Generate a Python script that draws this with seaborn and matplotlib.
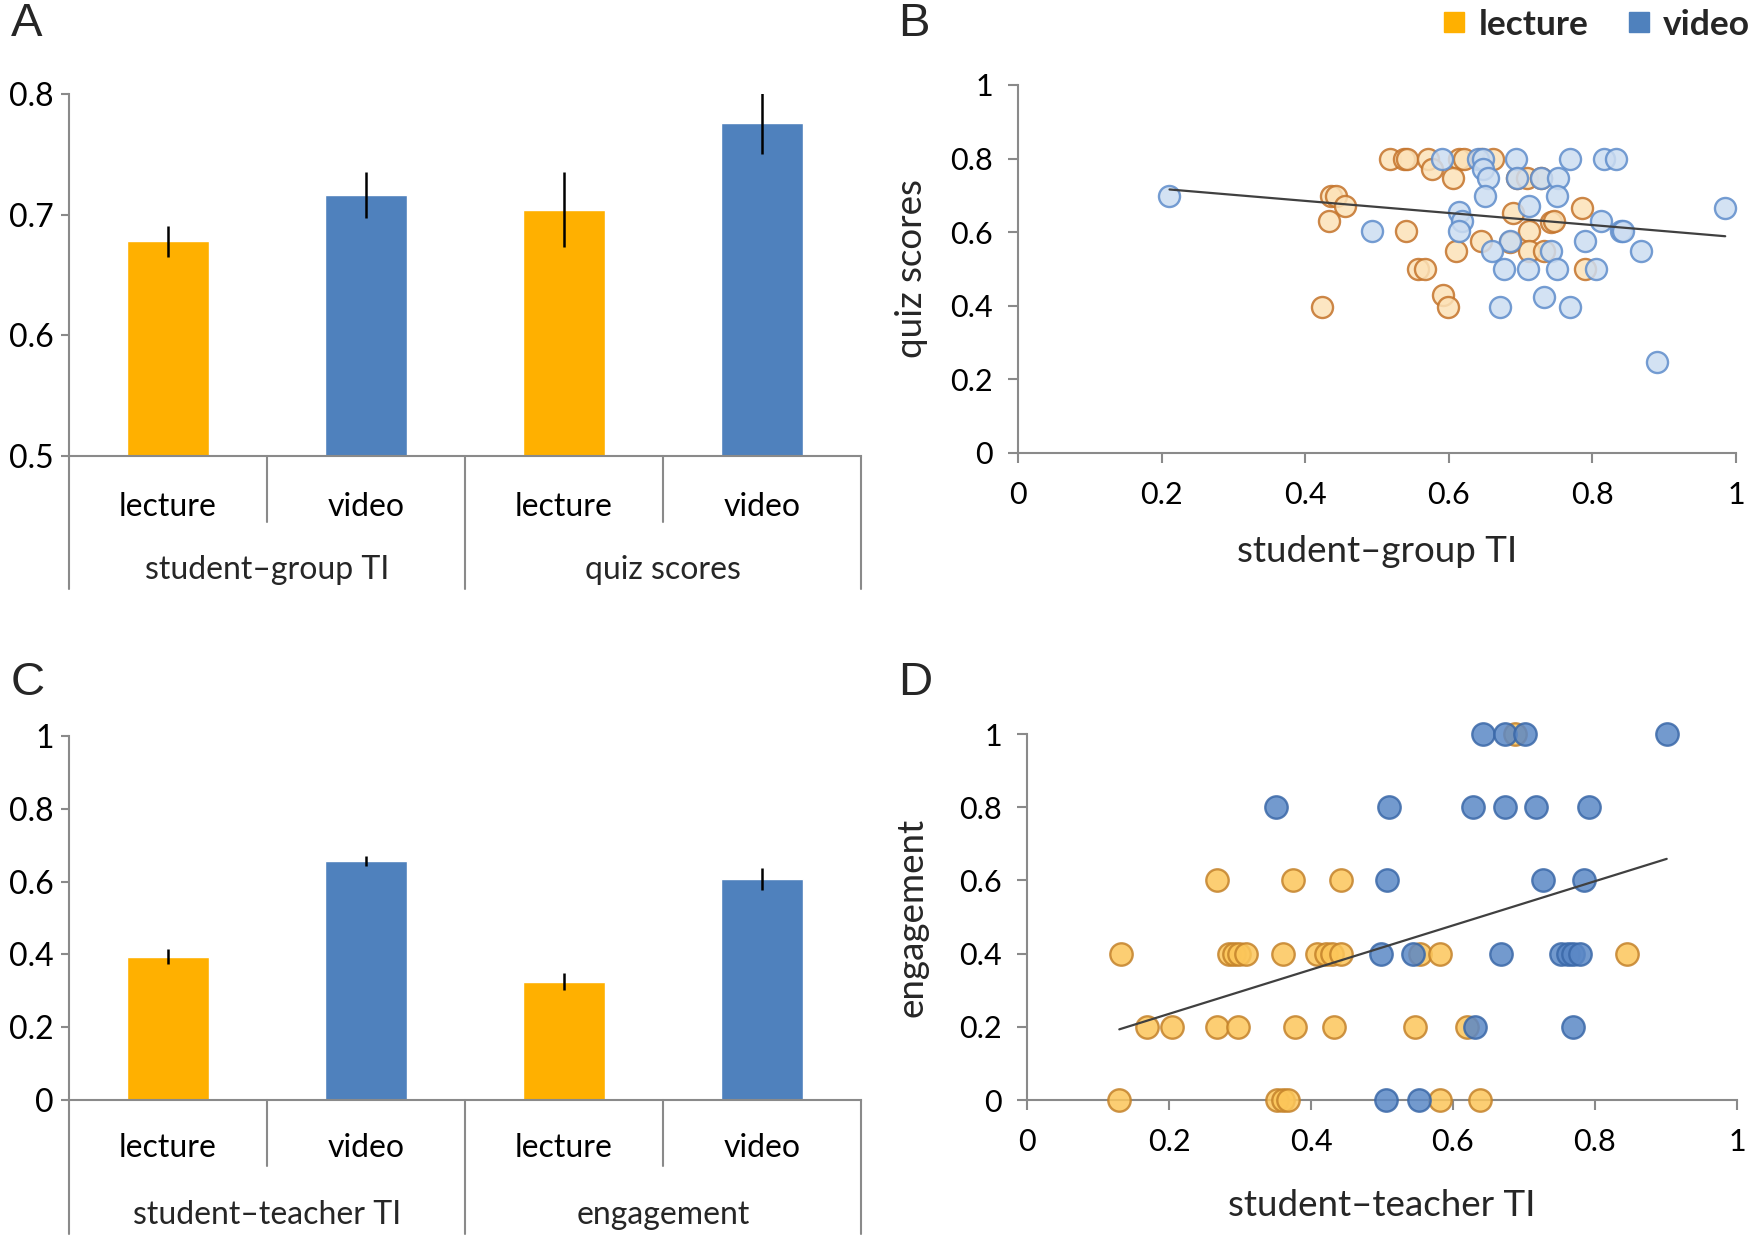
import numpy as np
import pandas as pd
import matplotlib
matplotlib.use("Agg")
import matplotlib.pyplot as plt
import matplotlib.transforms as mtransforms
from matplotlib.lines import Line2D
import seaborn as sns

# ---- data ----
conditions = ["lecture", "video"]

# panel A: means and standard errors
measures_a = ["student–group TI", "quiz scores"]
means_a = [0.678, 0.716, 0.704, 0.776]
errs_a = [0.013, 0.019, 0.031, 0.026]

# panel C
measures_c = ["student–teacher TI", "engagement"]
means_c = [0.394, 0.656, 0.325, 0.606]
errs_c = [0.020, 0.013, 0.024, 0.030]

# panel B: student-group TI vs quiz scores
lec_ti_b = [0.518, 0.538, 0.542, 0.571, 0.614, 0.621, 0.645, 0.662,
            0.577, 0.606, 0.695, 0.709, 0.729, 0.436, 0.443, 0.455,
            0.433, 0.540, 0.690, 0.786, 0.712, 0.742, 0.746, 0.645,
            0.685, 0.610, 0.712, 0.732, 0.557, 0.567, 0.789, 0.592,
            0.599, 0.424]
lec_quiz_b = [0.80, 0.80, 0.80, 0.80, 0.80, 0.80, 0.80, 0.80,
              0.772, 0.747, 0.747, 0.747, 0.747, 0.699, 0.699, 0.670,
              0.631, 0.602, 0.651, 0.666, 0.602, 0.627, 0.631, 0.577,
              0.574, 0.548, 0.548, 0.548, 0.50, 0.50, 0.50, 0.428,
              0.398, 0.398]
vid_ti_b = [0.211, 0.493, 0.591, 0.641, 0.648, 0.694, 0.769, 0.816,
            0.833, 0.648, 0.655, 0.695, 0.729, 0.752, 0.651, 0.751,
            0.614, 0.618, 0.614, 0.712, 0.812, 0.840, 0.843, 0.985,
            0.685, 0.660, 0.742, 0.789, 0.867, 0.677, 0.710, 0.751,
            0.805, 0.733, 0.672, 0.769, 0.890]
vid_quiz_b = [0.699, 0.602, 0.80, 0.80, 0.80, 0.80, 0.80, 0.80,
              0.80, 0.772, 0.747, 0.747, 0.747, 0.747, 0.699, 0.699,
              0.654, 0.631, 0.602, 0.670, 0.631, 0.602, 0.602, 0.666,
              0.577, 0.548, 0.548, 0.577, 0.548, 0.50, 0.50, 0.50,
              0.50, 0.425, 0.398, 0.398, 0.246]

# panel D: student-teacher TI vs engagement
lec_ti_d = [0.130, 0.352, 0.361, 0.368, 0.581, 0.638,
            0.169, 0.204, 0.268, 0.297, 0.378, 0.432, 0.546, 0.620,
            0.133, 0.284, 0.292, 0.299, 0.309, 0.360, 0.408, 0.421,
            0.429, 0.442, 0.554, 0.581, 0.845,
            0.268, 0.375, 0.442, 0.688]
lec_eng_d = [0.0, 0.0, 0.0, 0.0, 0.0, 0.0,
             0.2, 0.2, 0.2, 0.2, 0.2, 0.2, 0.2, 0.2,
             0.4, 0.4, 0.4, 0.4, 0.4, 0.4, 0.4, 0.4,
             0.4, 0.4, 0.4, 0.4, 0.4,
             0.6, 0.6, 0.6, 1.0]
vid_ti_d = [0.506, 0.552, 0.631, 0.769,
            0.498, 0.544, 0.667, 0.752, 0.762, 0.769, 0.779,
            0.507, 0.727, 0.784,
            0.350, 0.510, 0.628, 0.673, 0.717, 0.791,
            0.642, 0.673, 0.702, 0.901]
vid_eng_d = [0.0, 0.0, 0.2, 0.2,
             0.4, 0.4, 0.4, 0.4, 0.4, 0.4, 0.4,
             0.6, 0.6, 0.6,
             0.8, 0.8, 0.8, 0.8, 0.8, 0.8,
             1.0, 1.0, 1.0, 1.0]

# ---- style ----
ORANGE = "#FFB000"
BLUE = "#4F81BD"
GREY = "#8A8A8A"
sns.set_theme(style="white")
plt.rcParams["font.family"] = ["Lato", "DejaVu Sans"]
plt.rcParams["axes.edgecolor"] = GREY
plt.rcParams["axes.linewidth"] = 1.5
plt.rcParams["xtick.color"] = GREY
plt.rcParams["ytick.color"] = GREY
plt.rcParams["xtick.labelcolor"] = "black"
plt.rcParams["ytick.labelcolor"] = "black"

W, H = 1754, 1238
fig = plt.figure(figsize=(W / 100, H / 100), dpi=100)


def px_axes(left, top, right, bottom):
    return fig.add_axes([left / W, 1 - bottom / H, (right - left) / W, (bottom - top) / H])


def bar_panel(ax, measures, means, errs, ylim, yticks, yfmt, tick_pad):
    keys = [f"{m}|{c}" for m in measures for c in conditions]
    df = pd.DataFrame({
        "key": keys,
        "condition": conditions * len(measures),
        "value": means,
    })
    sns.barplot(data=df, x="key", y="value", hue="condition", order=keys,
                palette={"lecture": ORANGE, "video": BLUE}, dodge=False,
                width=0.41, legend=False, ax=ax, saturation=1)
    ax.errorbar(np.arange(len(keys)), means, yerr=errs, fmt="none",
                ecolor="black", elinewidth=1.8, capsize=0)
    ax.set_xlim(-0.5, len(keys) - 0.5)
    ax.set_ylim(*ylim)
    ax.set_yticks(yticks)
    ax.set_yticklabels([yfmt(v) for v in yticks], fontsize=23)
    ax.set_xticks(np.arange(len(keys)))
    ax.set_xticklabels(conditions * len(measures), fontsize=23)
    ax.tick_params(axis="x", length=0, pad=tick_pad)
    ax.tick_params(axis="y", length=6, width=1.5, pad=5, left=True)
    ax.set_xlabel("")
    ax.set_ylabel("")
    sns.despine(ax=ax, top=True, right=True)
    trans = mtransforms.blended_transform_factory(ax.transData, ax.transAxes)
    for xb in [-0.5, 1.5, 3.5]:
        ax.plot([xb, xb], [0, -0.368], color=GREY, lw=1.5, transform=trans, clip_on=False)
    for xb in [0.5, 2.5]:
        ax.plot([xb, xb], [0, -0.182], color=GREY, lw=1.5, transform=trans, clip_on=False)
    for i, m in enumerate(measures):
        ax.text(2 * i + 0.5, -0.315, m, transform=trans, ha="center", va="center", fontsize=23)


def scatter_panel(ax, lx, ly, vx, vy, styles, xlabel, ylabel, size, xpad, ypad):
    df = pd.DataFrame({"x": lx + vx, "y": ly + vy,
                       "condition": ["lecture"] * len(lx) + ["video"] * len(vx)})
    for cond in conditions:
        face, edge = styles[cond]
        sub = df[df["condition"] == cond]
        sns.scatterplot(data=sub, x="x", y="y", ax=ax, s=size, color=face,
                        edgecolor=edge, linewidth=1.7, alpha=0.85, legend=False,
                        zorder=3, clip_on=False)
    sns.regplot(data=df, x="x", y="y", ax=ax, scatter=False, ci=None, truncate=True,
                line_kws={"color": "#404040", "lw": 1.6, "zorder": 4})
    ax.set_xlim(0, 1)
    ax.set_ylim(0, 1)
    ticks = [0, 0.2, 0.4, 0.6, 0.8, 1]
    labels = ["0", "0.2", "0.4", "0.6", "0.8", "1"]
    ax.set_xticks(ticks)
    ax.set_xticklabels(labels, fontsize=22)
    ax.set_yticks(ticks)
    ax.set_yticklabels(labels, fontsize=22)
    ax.tick_params(axis="both", length=7, width=1.5, bottom=True, left=True)
    ax.tick_params(axis="x", pad=13)
    ax.tick_params(axis="y", pad=11)
    ax.set_xlabel(xlabel, fontsize=26.5, labelpad=xpad)
    ax.set_ylabel(ylabel, fontsize=26.5, labelpad=ypad)
    sns.despine(ax=ax, top=True, right=True)


# ---- panel A ----
ax_a = px_axes(69, 94, 861, 456)
bar_panel(ax_a, measures_a, means_a, errs_a, (0.5, 0.8),
          [0.5, 0.6, 0.7, 0.8], lambda v: f"{v:.1f}", 26)

# ---- panel C ----
ax_c = px_axes(69, 736, 861, 1100)
bar_panel(ax_c, measures_c, means_c, errs_c, (0, 1),
          [0, 0.2, 0.4, 0.6, 0.8, 1],
          lambda v: "0" if v == 0 else ("1" if v == 1 else f"{v:.1f}"), 24)

# ---- panel B ----
ax_b = px_axes(1018, 85, 1736, 453)
scatter_panel(ax_b, lec_ti_b, lec_quiz_b, vid_ti_b, vid_quiz_b,
              {"lecture": ("#FCE2B8", "#C4732A"), "video": ("#CCDDF1", "#5F8DCB")},
              "student–group TI", "quiz scores", 230, 19, 16)

# ---- panel D ----
ax_d = px_axes(1027, 734, 1737, 1100)
scatter_panel(ax_d, lec_ti_d, lec_eng_d, vid_ti_d, vid_eng_d,
              {"lecture": ("#FCC65A", "#C4822A"), "video": ("#5B88C6", "#3A68A8")},
              "student–teacher TI", "engagement", 260, 24, 22)

# panel letters
for letter, (xp, yp) in {"A": (11, 24), "B": (898, 24), "C": (11, 683), "D": (898, 683)}.items():
    fig.text(xp / W, 1 - yp / H, letter, fontsize=34, family="Liberation Sans", va="center", ha="left")

# legend
handles = [Line2D([], [], marker="s", linestyle="", markersize=14, color=ORANGE),
           Line2D([], [], marker="s", linestyle="", markersize=14, color=BLUE)]
fig.legend(handles, conditions, loc="upper right", bbox_to_anchor=(1.007, 1.006), ncol=2,
           frameon=False, prop={"weight": "bold", "size": 25.5}, handletextpad=0.3,
           columnspacing=1.0, borderaxespad=0.05, handlelength=0.8)

fig.savefig("out.png", dpi=100)
